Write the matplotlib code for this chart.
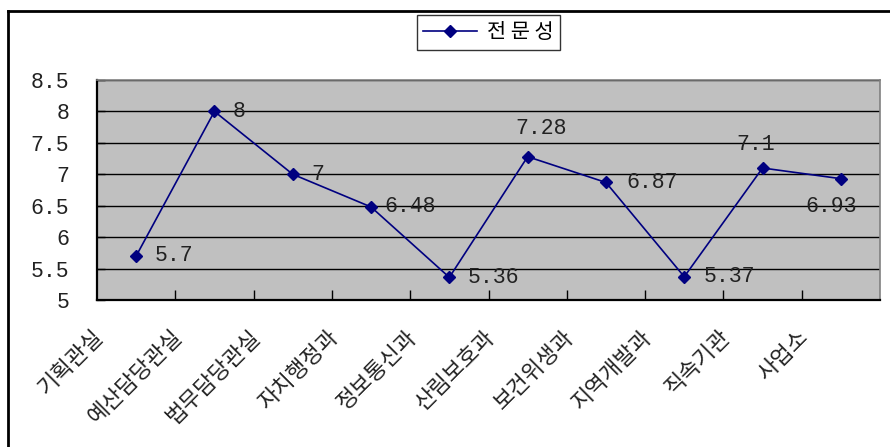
import matplotlib
matplotlib.use('Agg')
import matplotlib.pyplot as plt
import matplotlib.transforms as mtransforms
from matplotlib.lines import Line2D
from matplotlib.ticker import FixedLocator

departments = ['기획관실', '예산담당관실', '법무담당관실', '자치행정과', '정보통신과',
               '산림보호과', '보건위생과', '지역개발과', '직속기관', '사업소']
expertise = [5.7, 8, 7, 6.48, 5.36, 7.28, 6.87, 5.37, 7.1, 6.93]
series_name = '전 문 성'
y_ticks = [5, 5.5, 6, 6.5, 7, 7.5, 8, 8.5]
y_tick_labels = ['5', '5.5', '6', '6.5', '7', '7.5', '8', '8.5']

# value label placement: offset from the point in pixels, horizontal alignment
label_pos = [(19, 0, 'left'), (18, 0, 'left'), (19, 0, 'left'), (13, 0, 'left'),
             (18, 0, 'left'), (13, 28, 'center'), (20, 0, 'left'), (19, 0, 'left'),
             (-7, 23, 'center'), (-10, -28, 'center')]

KR = 'Noto Sans CJK KR'
NUM = 'Liberation Mono'
NAVY = '#000080'

fig = plt.figure(figsize=(8.9, 4.47), dpi=100)
ax = fig.add_axes([97 / 890, 1 - 300 / 447, (880 - 97) / 890, 220 / 447])
ax.set_facecolor('#c0c0c0')

x = list(range(len(departments)))
ax.plot(x, expertise, color=NAVY, lw=1.2, marker='D', ms=6, mfc=NAVY, mec=NAVY,
        label=series_name, zorder=3)

for xi, v, (dx, dy, ha) in zip(x, expertise, label_pos):
    ax.annotate(f'{v:g}', (xi, v), xytext=(dx, dy), textcoords='offset pixels',
                ha=ha, va='center', family=NUM, fontsize=15.5, color='#222222',
                zorder=4)

ax.set_xlim(-0.5, len(departments) - 0.5)
ax.set_ylim(5, 8.5)
ax.set_yticks(y_ticks)
ax.set_yticklabels(y_tick_labels, family=NUM, fontsize=15.5, color='#222222')
ax.yaxis.grid(True, color='black', lw=1)
ax.set_axisbelow(True)

ax.set_xticks(x)
ax.set_xticklabels(departments, family=KR, fontsize=16, rotation=45,
                   ha='right', va='center', rotation_mode='anchor', color='#222222')
ax.xaxis.set_minor_locator(FixedLocator([i + 0.5 for i in x[:-1]]))
ax.tick_params(axis='x', which='major', length=0, pad=24)
ax.tick_params(axis='x', which='minor', direction='in', length=7, width=1, color='black')
ax.tick_params(axis='y', direction='in', length=6, width=1, pad=20)

shift = mtransforms.ScaledTranslation(-36 / 100, 0, fig.dpi_scale_trans)
for lab in ax.get_xticklabels():
    lab.set_transform(lab.get_transform() + shift)

for side in ('left', 'bottom'):
    ax.spines[side].set_linewidth(1.6)
    ax.spines[side].set_color('black')
for side in ('top', 'right'):
    ax.spines[side].set_linewidth(1.2)
    ax.spines[side].set_color('#808080')

leg = ax.legend(loc='upper center', bbox_to_anchor=(0.5, 1 + 65 / 220),
                prop={'family': KR, 'size': 15}, frameon=True, fancybox=False,
                handlelength=2.6, borderpad=0.3, handletextpad=0.5, borderaxespad=0)
leg.get_frame().set_edgecolor('black')
leg.get_frame().set_linewidth(1)

# outer chart border (left and top edges)
fig.add_artist(Line2D([8 / 890, 8 / 890], [0, 1 - 11 / 447], color='black', lw=2,
                      transform=fig.transFigure))
fig.add_artist(Line2D([8 / 890, 1], [1 - 11 / 447, 1 - 11 / 447], color='black', lw=2,
                      transform=fig.transFigure))

fig.savefig('out.png', dpi=100)
